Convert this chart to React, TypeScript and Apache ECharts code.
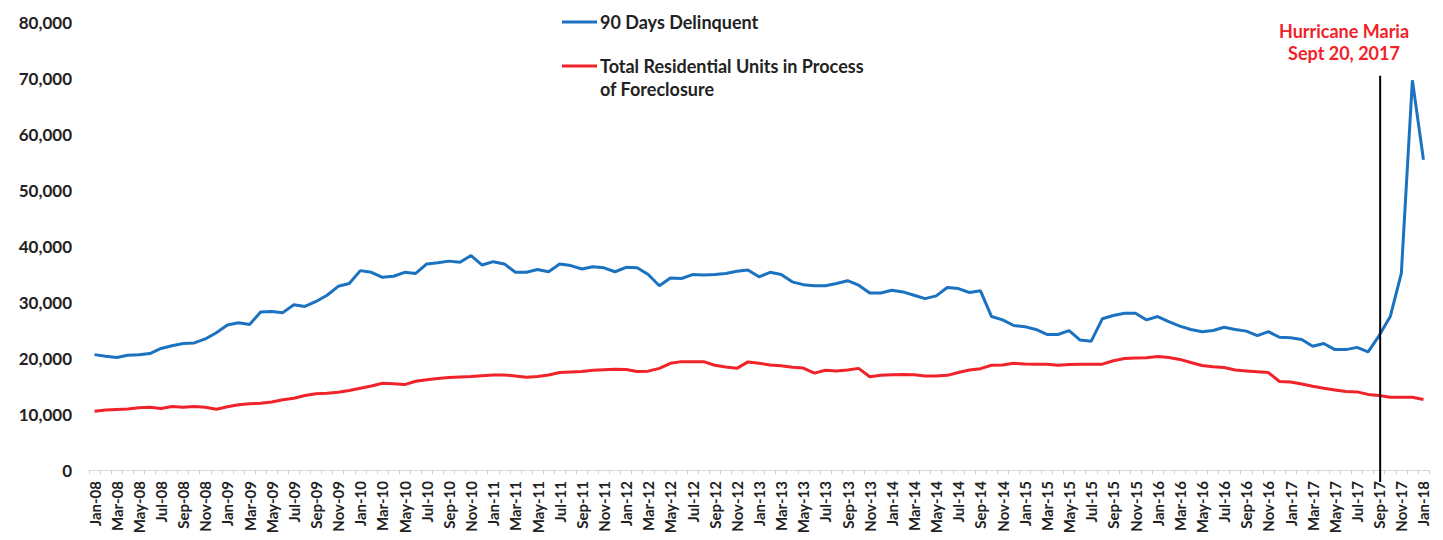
import React, { useEffect, useRef } from "react";
import * as echarts from "echarts";

const months: string[] = [
  "Jan-08","Feb-08","Mar-08","Apr-08","May-08","Jun-08","Jul-08","Aug-08","Sep-08","Oct-08","Nov-08","Dec-08",
  "Jan-09","Feb-09","Mar-09","Apr-09","May-09","Jun-09","Jul-09","Aug-09","Sep-09","Oct-09","Nov-09","Dec-09",
  "Jan-10","Feb-10","Mar-10","Apr-10","May-10","Jun-10","Jul-10","Aug-10","Sep-10","Oct-10","Nov-10","Dec-10",
  "Jan-11","Feb-11","Mar-11","Apr-11","May-11","Jun-11","Jul-11","Aug-11","Sep-11","Oct-11","Nov-11","Dec-11",
  "Jan-12","Feb-12","Mar-12","Apr-12","May-12","Jun-12","Jul-12","Aug-12","Sep-12","Oct-12","Nov-12","Dec-12",
  "Jan-13","Feb-13","Mar-13","Apr-13","May-13","Jun-13","Jul-13","Aug-13","Sep-13","Oct-13","Nov-13","Dec-13",
  "Jan-14","Feb-14","Mar-14","Apr-14","May-14","Jun-14","Jul-14","Aug-14","Sep-14","Oct-14","Nov-14","Dec-14",
  "Jan-15","Feb-15","Mar-15","Apr-15","May-15","Jun-15","Jul-15","Aug-15","Sep-15","Oct-15","Nov-15","Dec-15",
  "Jan-16","Feb-16","Mar-16","Apr-16","May-16","Jun-16","Jul-16","Aug-16","Sep-16","Oct-16","Nov-16","Dec-16",
  "Jan-17","Feb-17","Mar-17","Apr-17","May-17","Jun-17","Jul-17","Aug-17","Sep-17","Oct-17","Nov-17","Dec-17",
  "Jan-18",
];

const delinquent90: number[] = [
  20600, 20300, 20100, 20500, 20600, 20800, 21700, 22200, 22600, 22700, 23400, 24500,
  25900, 26300, 26000, 28200, 28300, 28100, 29500, 29200, 30100, 31200, 32800, 33300,
  35600, 35300, 34400, 34600, 35300, 35100, 36800, 37000, 37300, 37100, 38300, 36600,
  37200, 36800, 35300, 35300, 35800, 35400, 36800, 36500, 35900, 36300, 36100, 35400,
  36200, 36100, 34900, 32900, 34300, 34200, 34900, 34800, 34900, 35100, 35500, 35700,
  34500, 35300, 34900, 33600, 33100, 32900, 32900, 33300, 33800, 33000, 31600, 31600,
  32100, 31800, 31200, 30600, 31100, 32600, 32400, 31700, 32000, 27400, 26800, 25800,
  25600, 25100, 24200, 24200, 24900, 23200, 23000, 27000, 27600, 28000, 28000, 26800,
  27400, 26500, 25700, 25100, 24700, 24900, 25500, 25100, 24800, 24000, 24700, 23700,
  23600, 23300, 22100, 22600, 21500, 21500, 21900, 21100, 24000, 27400, 35100, 69600,
  55400,
];

const foreclosure: number[] = [
  10500, 10700, 10800, 10900, 11100, 11200, 11000, 11350, 11200, 11350, 11200, 10850,
  11300, 11650, 11850, 11900, 12150, 12550, 12800, 13300, 13600, 13700, 13900, 14200,
  14600, 15000, 15500, 15400, 15250, 15850, 16100, 16350, 16500, 16600, 16700, 16850,
  16950, 16950, 16800, 16550, 16700, 16950, 17400, 17500, 17600, 17800, 17900, 18000,
  17950, 17600, 17650, 18150, 19050, 19350, 19350, 19350, 18700, 18400, 18150, 19300,
  19050, 18750, 18600, 18350, 18200, 17300, 17800, 17700, 17850, 18150, 16650, 16900,
  17000, 17050, 17000, 16800, 16800, 16900, 17400, 17850, 18100, 18700, 18750, 19050,
  18950, 18900, 18900, 18700, 18850, 18900, 18900, 18900, 19500, 19900, 20000, 20050,
  20250, 20100, 19750, 19200, 18650, 18450, 18300, 17850, 17700, 17550, 17400, 15800,
  15700, 15350, 14950, 14600, 14300, 14000, 13950, 13500, 13300, 13000, 13000, 13000,
  12600,
];

const seriesNames = ["90 Days Delinquent", "Total Residential Units in Process of Foreclosure"];
const legendLines2 = ["Total Residential Units in Process", "of Foreclosure"];
const hurricaneMonth = "Sep-17";
const hurricaneLabel = ["Hurricane Maria", "Sept 20, 2017"];
const markerTopValue = 70400;

const BLUE = "#1b72c0";
const RED = "#f0222a";
const FONT = "Lato, 'Open Sans', sans-serif";
const TEXT = "#222222";

export default function App() {
  const ref = useRef<HTMLDivElement>(null);

  useEffect(() => {
    if (!ref.current) return;
    const chart = echarts.init(ref.current, undefined, { renderer: "svg" });
    chart.setOption({
      animation: false,
      grid: { left: 89, right: 14, top: 22, bottom: 70, containLabel: false },
      xAxis: {
        type: "category",
        data: months,
        boundaryGap: true,
        axisLine: { show: true, lineStyle: { color: "#d9d9d9", width: 1 } },
        axisTick: { show: true, interval: 0, length: 4, lineStyle: { color: "#d0d0d0" } },
        axisLabel: {
          interval: 1,
          rotate: 90,
          fontSize: 15,
          fontWeight: "bold",
          color: TEXT,
          fontFamily: FONT,
          margin: 11,
        },
        splitLine: { show: false },
      },
      yAxis: {
        type: "value",
        min: 0,
        max: 80000,
        interval: 10000,
        axisLine: { show: false },
        axisTick: { show: false },
        splitLine: { show: false },
        axisLabel: {
          formatter: (v: number) => v.toLocaleString("en-US"),
          fontSize: 17,
          fontWeight: "bold",
          color: TEXT,
          fontFamily: FONT,
          margin: 17,
        },
      },
      series: [
        {
          name: seriesNames[0],
          type: "line",
          data: delinquent90,
          symbol: "none",
          lineStyle: { color: BLUE, width: 3 },
          itemStyle: { color: BLUE },
        },
        {
          name: seriesNames[1],
          type: "line",
          data: foreclosure,
          symbol: "none",
          lineStyle: { color: RED, width: 3 },
          itemStyle: { color: RED },
        },
      ],
    });

    const xPix = chart.convertToPixel({ xAxisIndex: 0 }, hurricaneMonth) as number;
    const yTop = chart.convertToPixel({ yAxisIndex: 0 }, markerTopValue) as number;
    const yZero = chart.convertToPixel({ yAxisIndex: 0 }, 0) as number;

    const legendFont = `bold 18px ${FONT}`;
    chart.setOption({
      graphic: [
        { type: "line", shape: { x1: 562, y1: 22, x2: 597, y2: 22 }, style: { stroke: BLUE, lineWidth: 3 } },
        {
          type: "text",
          x: 600,
          y: 22,
          style: { text: seriesNames[0], font: legendFont, fill: TEXT, verticalAlign: "middle", align: "left" },
        },
        { type: "line", shape: { x1: 562, y1: 66, x2: 597, y2: 66 }, style: { stroke: RED, lineWidth: 3 } },
        {
          type: "text",
          x: 600,
          y: 66,
          style: { text: legendLines2[0], font: legendFont, fill: TEXT, verticalAlign: "middle", align: "left" },
        },
        {
          type: "text",
          x: 600,
          y: 89,
          style: { text: legendLines2[1], font: legendFont, fill: TEXT, verticalAlign: "middle", align: "left" },
        },
        {
          type: "line",
          shape: { x1: xPix + 1, y1: yTop, x2: xPix + 1, y2: yZero + 12 },
          style: { stroke: "#000", lineWidth: 2 },
          z: 10,
        },
        {
          type: "text",
          x: 1344,
          y: 31,
          style: { text: hurricaneLabel[0], font: legendFont, fill: RED, verticalAlign: "middle", align: "center" },
        },
        {
          type: "text",
          x: 1344,
          y: 53,
          style: { text: hurricaneLabel[1], font: legendFont, fill: RED, verticalAlign: "middle", align: "center" },
        },
      ],
    });

    return () => chart.dispose();
  }, []);

  return (
    <div
      ref={ref}
      style={{ position: "fixed", left: 0, top: 0, width: 1443, height: 540, background: "#fff" }}
    />
  );
}
